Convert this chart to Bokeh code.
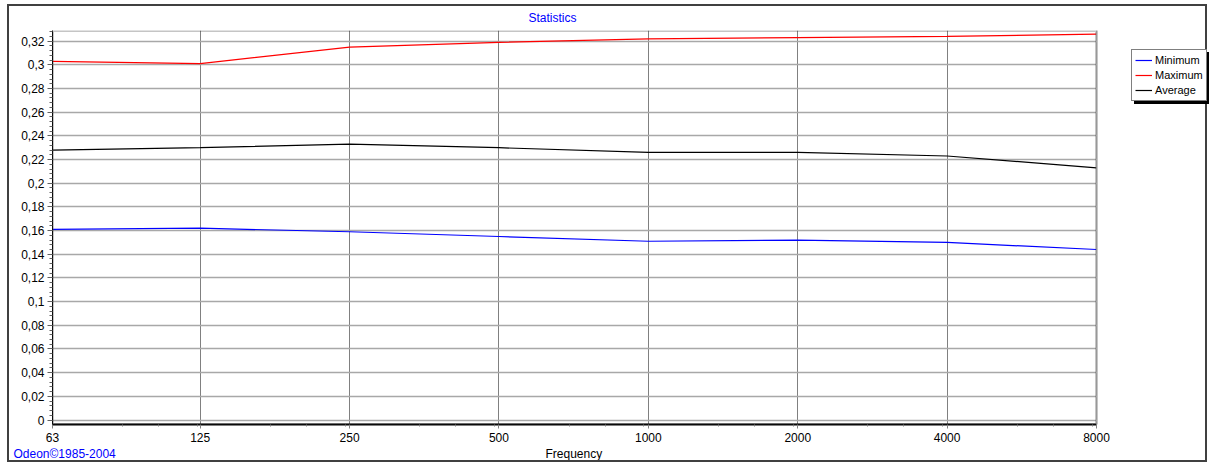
from bokeh.plotting import figure
from bokeh.models import (Range1d, FixedTicker, CustomJSTickFormatter, Legend, LegendItem,
                          Title, BoxAnnotation, InlineStyleSheet)
from bokeh.embed import file_html
from bokeh.resources import INLINE

# ---- data ----
freqs = [63, 125, 250, 500, 1000, 2000, 4000, 8000]
minimum = [0.161, 0.162, 0.159, 0.155, 0.151, 0.152, 0.150, 0.144]
maximum = [0.303, 0.301, 0.315, 0.319, 0.322, 0.323, 0.324, 0.326]
average = [0.228, 0.230, 0.233, 0.230, 0.226, 0.226, 0.223, 0.213]
y_ticks = [0, 0.02, 0.04, 0.06, 0.08, 0.10, 0.12, 0.14, 0.16, 0.18, 0.20,
           0.22, 0.24, 0.26, 0.28, 0.30, 0.32]
series_names = ["Minimum", "Maximum", "Average"]
series_colors = ["#0000ff", "#ff0000", "#000000"]

FONT = "Liberation Sans"

# layout: the frame extends to the right edge; the area past the last band is masked
PX_PER_OCTAVE = 149.4
EXTRA_PX = 113
x_end = freqs[-1] * 2 ** (EXTRA_PX / PX_PER_OCTAVE)
y_lo, y_hi = -0.0038, 0.329

p = figure(width=1200, height=458, x_axis_type="log",
           x_range=Range1d(freqs[0], x_end), y_range=Range1d(y_lo, y_hi),
           output_backend="svg", toolbar_location=None,
           min_border_left=43, min_border_right=0, min_border_top=24, min_border_bottom=38,
           background_fill_color="white", border_fill_color="white")
p.stylesheets = [InlineStyleSheet(
    css=":host { border: 2px solid #404040; margin-left: 7px; margin-top: 4px; }")]
p.outline_line_color = None

# title
p.title.text = "Statistics"
p.title.text_font = FONT
p.title.text_font_size = "12px"
p.title.text_font_style = "normal"
p.title.text_color = "#0000ff"
p.title.align = "left"
p.title.offset = 476
p.title.vertical_align = "top"
p.title.standoff = 8

# axes
minor_x = [f * 2 ** a for f in freqs[:-1] for a in (0.47, 0.71, 0.97)]
p.xaxis.ticker = FixedTicker(ticks=freqs, minor_ticks=minor_x)
p.xaxis.formatter = CustomJSTickFormatter(code="return Math.round(tick).toString();")
p.xaxis.bounds = (freqs[0], freqs[-1])
p.xaxis.axis_line_color = "black"
p.xaxis.axis_line_width = 2
p.xaxis.major_tick_out = 4
p.xaxis.major_tick_in = 0
p.xaxis.minor_tick_out = 2
p.xaxis.minor_tick_in = 0
p.xaxis.major_tick_line_color = "#808080"
p.xaxis.minor_tick_line_color = "#808080"
p.xaxis.major_label_standoff = 4

minor_y = [round(i * 0.004, 4) for i in range(0, 83)]
p.yaxis.ticker = FixedTicker(ticks=y_ticks, minor_ticks=minor_y)
p.yaxis.formatter = CustomJSTickFormatter(
    code="return (Math.round(tick*100)/100).toString().replace('.', ',');")
p.yaxis.axis_line_color = "black"
p.yaxis.axis_line_width = 1
p.yaxis.major_tick_out = 5
p.yaxis.major_tick_in = 0
p.yaxis.minor_tick_out = 3
p.yaxis.minor_tick_in = 0
p.yaxis.major_tick_line_color = "#606060"
p.yaxis.minor_tick_line_color = "#606060"
p.yaxis.major_label_standoff = 3

for ax in (p.xaxis, p.yaxis):
    ax.major_label_text_font = FONT
    ax.major_label_text_font_size = "12px"
    ax.major_label_text_color = "black"

p.xgrid.grid_line_color = "#808080"
p.xgrid.grid_line_width = 1
p.ygrid.grid_line_color = "#a8a8a8"
p.ygrid.grid_line_width = 1.5

# series
renderers = []
for vals, color in zip([minimum, maximum, average], series_colors):
    r = p.line(freqs, vals, line_color=color, line_width=1.2)
    renderers.append(r)

# mask past the last band + plot-area border
p.add_layout(BoxAnnotation(left=freqs[-1], fill_color="white", fill_alpha=1, line_color=None))
p.add_layout(BoxAnnotation(left=freqs[0], right=freqs[-1], bottom=y_lo, top=y_hi,
                           fill_alpha=0, line_color="#404040", line_width=3))

# legend with shadow (shadow uses blank labels of the same width)
shadow_renderers = [p.line([], [], line_color="black") for _ in series_names]
legend_kwargs = dict(label_text_font=FONT, label_text_font_size="11px",
                     label_height=14, glyph_height=14, glyph_width=17, label_width=48,
                     label_standoff=3, spacing=1, padding=3, margin=0,
                     border_line_width=1)
shadow = Legend(items=[LegendItem(label=" ", renderers=[r]) for r in shadow_renderers],
                location=(1082, 320), background_fill_color="black", background_fill_alpha=1,
                border_line_color="black", label_text_color="black", **legend_kwargs)
p.add_layout(shadow, "center")

legend = Legend(items=[LegendItem(label=n, renderers=[r]) for n, r in zip(series_names, renderers)],
                location=(1079, 323), background_fill_color="white", background_fill_alpha=1,
                border_line_color="black", label_text_color="black", **legend_kwargs)
p.add_layout(legend, "center")

# axis title (positioned under the band axis) and copyright text, both on one line
p.add_layout(Title(text="Frequency", text_font=FONT, text_font_size="12px",
                   text_font_style="normal", text_color="black",
                   align="left", offset=493, vertical_align="top", standoff=4), "below")
p.add_layout(Title(text="Odeon©1985-2004", text_font=FONT, text_font_size="12px",
                   text_font_style="normal", text_color="#0000ff",
                   align="left", offset=-39, vertical_align="top", standoff=-36), "below")

open("out.html", "w").write(file_html(p, INLINE))
